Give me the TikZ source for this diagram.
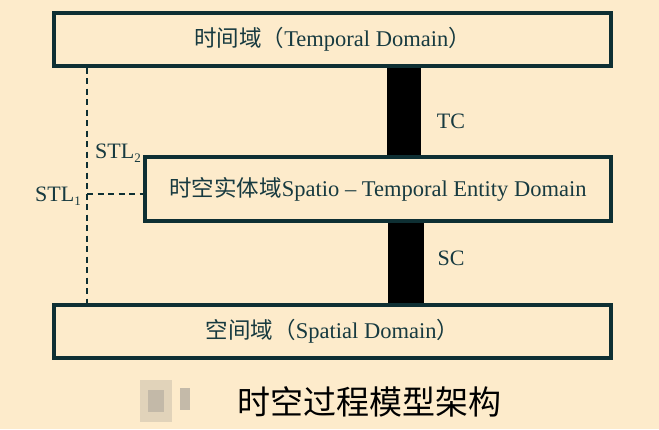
\documentclass[tikz,border=0pt]{standalone}
\usepackage{fontspec}
\setmainfont{Liberation Serif}
\newfontfamily\cjk{Noto Sans CJK SC}
\definecolor{bgcol}{HTML}{FDEBCB}
\definecolor{inkcol}{HTML}{173A40}
\definecolor{framecol}{HTML}{0E2F33}
\tikzset{
  domainbox/.style={draw=framecol, line width=3.2pt, fill=bgcol, text=inkcol, inner sep=0pt,
    font=\fontsize{22.5}{24}\selectfont},
  bar/.style={fill=black},
  dashline/.style={draw=framecol, line width=1.9pt, dash pattern=on 6pt off 4.5pt},
  lbl/.style={text=inkcol, inner sep=0pt, font=\fontsize{22}{24}\selectfont},
  blur/.style={fill=gray, draw=none}
}
\newcommand{\sbx}[1]{\raisebox{-4pt}{\fontsize{13}{13}\selectfont #1}}
\begin{document}
\begin{tikzpicture}[x=1pt,y=-1pt]
\fill[bgcol] (0,0) rectangle (659,429);
\useasboundingbox (0,0) rectangle (659,429);
\node[domainbox, minimum width=557pt, minimum height=53pt] (temporal) at (332.5,39.5)
  {{\cjk 时间域（}Temporal Domain{\cjk ）}};
\node[domainbox, minimum width=466pt, minimum height=64pt] (entity) at (378,189)
  {{\cjk 时空实体域}Spatio -- Temporal Entity Domain};
\node[domainbox, minimum width=557pt, minimum height=53pt] (spatial) at (332.5,331.5)
  {{\cjk 空间域（}Spatial Domain{\cjk ）}};
\fill[bar] (387,0 |- temporal.south) rectangle (421,0 |- entity.north);
\fill[bar] (388,0 |- entity.south) rectangle (424,0 |- spatial.north);
\node[lbl] (tc) at (451,121) {TC};
\node[lbl] (sc) at (451,258) {SC};
\coordinate (vtop) at (87,0 |- temporal.south);
\coordinate (vbot) at (87,0 |- spatial.north);
\coordinate (hleft) at (87,194);
\coordinate (hright) at (entity.west |- hleft);
\draw[dashline] (vtop) -- (vbot);
\draw[dashline] (hleft) -- (hright);
\node[lbl] (stl2) at (118,153) {STL\sbx{2}};
\node[lbl] (stl1) at (58,196) {STL\sbx{1}};
\fill[blur, opacity=0.22] (140,380) rectangle (172,422);
\fill[blur, opacity=0.3] (148,390) rectangle (164,412);
\fill[blur, opacity=0.45] (180,388) rectangle (190,410);
\node[text=black, inner sep=0pt, font=\cjk\fontsize{33}{36}\selectfont] (cap) at (369,402) {时空过程模型架构};
\end{tikzpicture}
\end{document}
